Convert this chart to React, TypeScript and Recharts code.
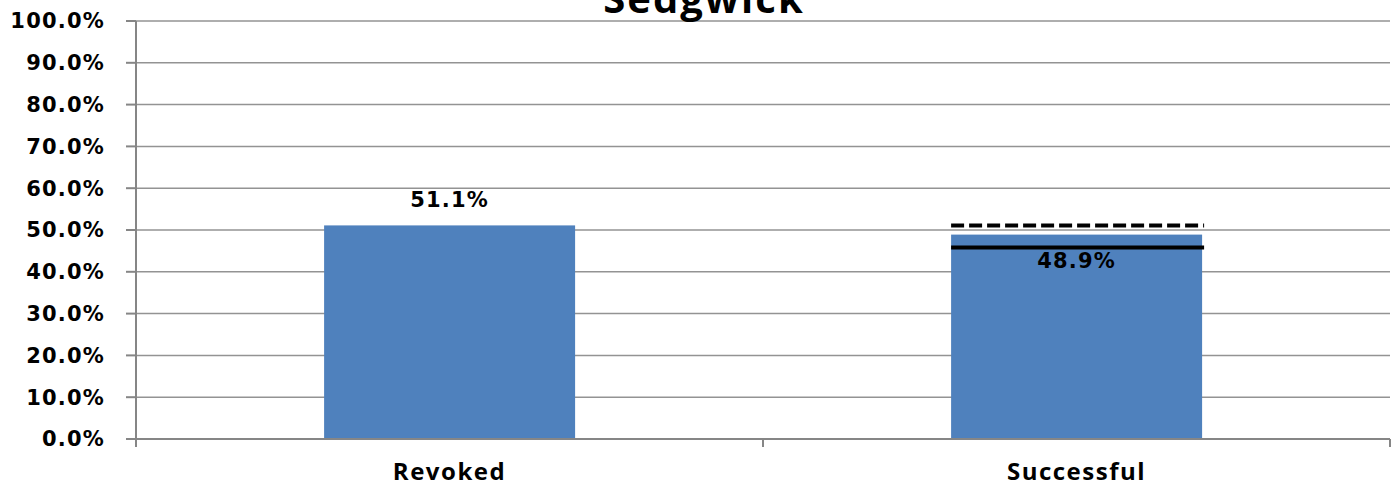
import { BarChart, Bar, XAxis, YAxis, CartesianGrid, LabelList } from "recharts";

const categories = ["Revoked", "Successful"];
const rates = [51.1, 48.9];
const dashedMarks = [null, 51.1];
const solidMarks = [null, 45.8];
const yTicks = [0, 10, 20, 30, 40, 50, 60, 70, 80, 90, 100];

const data = categories.map((name, i) => ({
  name,
  rate: rates[i],
  dashed: dashedMarks[i],
  solid: solidMarks[i],
}));

const BAR_COLOR = "#4F81BD";
const AXIS_COLOR = "#868686";
const GRID_COLOR = "#939393";
const numFont = "'DejaVu Sans', Verdana, sans-serif";
const catFont = "'Open Sans', sans-serif";

// bar with the two benchmark lines, placed with the bar's own scale
const BarWithMarks = (props: any) => {
  const { x, y, width, height, payload } = props;
  const base = y + height;
  const perUnit = height / payload.rate;
  const lineY = (v: number) => base - v * perUnit;
  return (
    <g>
      <rect x={x} y={y} width={width} height={height} fill={BAR_COLOR} />
      {payload.dashed != null && (
        <line
          x1={x}
          x2={x + width + 2}
          y1={lineY(payload.dashed)}
          y2={lineY(payload.dashed)}
          stroke="#000"
          strokeWidth={4}
          strokeDasharray="13 5"
        />
      )}
      {payload.solid != null && (
        <line
          x1={x}
          x2={x + width + 2}
          y1={lineY(payload.solid)}
          y2={lineY(payload.solid)}
          stroke="#000"
          strokeWidth={4}
        />
      )}
    </g>
  );
};

const renderLabel = (props: any) => {
  const vb = props.viewBox || {};
  const x = props.x ?? vb.x;
  const y = props.y ?? vb.y;
  const width = props.width ?? vb.width;
  const ty = props.index === 0 ? y - 18 : y + 33;
  return (
    <text
      x={x + width / 2}
      y={ty}
      textAnchor="middle"
      fontFamily={numFont}
      fontWeight="bold"
      fontSize={21}
      letterSpacing={1.2}
      fill="#000"
    >
      {Number(props.value).toFixed(1)}%
    </text>
  );
};

export default function App() {
  return (
    <div style={{ position: "relative", width: 1400, height: 487 }}>
      <style>{`body{margin:0}`}</style>
      <BarChart
        width={1400}
        height={487}
        data={data}
        margin={{ top: 21, right: 10, bottom: 0, left: 0 }}
        barCategoryGap="30%"
      >
        <CartesianGrid
          horizontal
          vertical={false}
          stroke={GRID_COLOR}
          strokeWidth={1.5}
        />
        <XAxis
          dataKey="name"
          height={48}
          stroke={AXIS_COLOR}
          strokeWidth={2}
          tickLine={false}
          tickSize={0}
          tickMargin={24}
          tick={{
            fill: "#000",
            fontFamily: catFont,
            fontWeight: 700,
            fontSize: 24,
            letterSpacing: 1.5,
          }}
        />
        <YAxis
          domain={[0, 100]}
          ticks={yTicks}
          width={136}
          stroke={AXIS_COLOR}
          strokeWidth={2}
          tickSize={10}
          tickMargin={21}
          tickFormatter={(v: number) => `${v.toFixed(1)}%`}
          tick={{
            fill: "#000",
            fontFamily: numFont,
            fontWeight: 700,
            fontSize: 21,
            letterSpacing: 1.2,
          }}
        />
        <Bar
          dataKey="rate"
          fill={BAR_COLOR}
          shape={BarWithMarks}
          isAnimationActive={false}
        >
          <LabelList dataKey="rate" content={renderLabel} />
        </Bar>
      </BarChart>
      <svg
        width={1400}
        height={487}
        style={{ position: "absolute", left: 0, top: 0, pointerEvents: "none" }}
      >
        {/* category boundary ticks on the x axis */}
        {[0, 1, 2].map((i) => {
          const px = 136 + (i * (1390 - 136)) / 2;
          return (
            <line key={i} x1={px} x2={px} y1={439} y2={447} stroke={AXIS_COLOR} strokeWidth={2} />
          );
        })}
        <text
          x={704}
          y={13}
          textAnchor="middle"
          fontFamily={catFont}
          fontWeight="bold"
          fontSize={40}
          letterSpacing={2}
          fill="#000"
        >
          Sedgwick
        </text>
      </svg>
    </div>
  );
}
